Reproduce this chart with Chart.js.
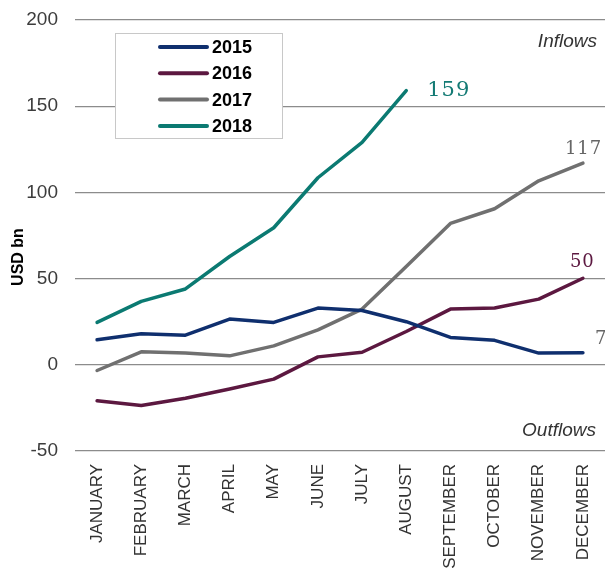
<!DOCTYPE html>
<html>
<head>
<meta charset="utf-8">
<script src="https://cdn.jsdelivr.net/npm/chart.js@4.4.1/dist/chart.umd.min.js"></script>
<style>
  html, body { margin: 0; padding: 0; background: #fff; }
  #wrap { width: 605px; height: 571px; position: relative; }
</style>
</head>
<body>
<div id="wrap"><canvas id="chart"></canvas></div>
<script>
// ===== DATA =====
const MONTHS = ['JANUARY', 'FEBRUARY', 'MARCH', 'APRIL', 'MAY', 'JUNE', 'JULY',
  'AUGUST', 'SEPTEMBER', 'OCTOBER', 'NOVEMBER', 'DECEMBER'];
const Y_TICKS = [-50, 0, 50, 100, 150, 200];
const YEARS = ['2015', '2016', '2017', '2018'];

const FLOWS_2015 = [14.5, 18, 17.2, 26.5, 24.6, 32.9, 31.5, 25, 15.9, 14.2, 6.8, 7];
const FLOWS_2016 = [-20.9, -23.6, -19.4, -14, -8.3, 4.6, 7.3, 19.3, 32.3, 32.9, 38.1, 50.2];
const FLOWS_2017 = [-3.3, 7.5, 6.8, 5.2, 11, 20.3, 32.3, 57, 82, 90.5, 106.7, 117];
const FLOWS_2018 = [24.6, 36.8, 44, 62.8, 79.5, 108.5, 129, 159];

// ===== COLORS =====
const COLORS = {
  navy: '#0f2f6e',
  maroon: '#5c1840',
  gray: '#707070',
  teal: '#0b7a72',
  grid: '#8c8c8c',
  tick: '#3c3c3c',
};

// end-of-line value labels, one per dataset
const END_LABELS = [
  { color: '#666666', font: '18px "DejaVu Serif"', dx: 12, dy: -13 },
  { color: COLORS.maroon, font: '18px "DejaVu Serif"', dx: -13, dy: -16 },
  { color: '#666666', font: '18px "DejaVu Serif"', dx: -18, dy: -14 },
  { color: '#137a74', font: '21px "DejaVu Serif"', dx: 21, dy: 0 },
];

const annotations = {
  id: 'annotations',
  afterDatasetsDraw(chart) {
    const { ctx, scales: { x, y } } = chart;
    ctx.save();

    // value at the end of each line
    chart.data.datasets.forEach((ds, i) => {
      const last = ds.data.length - 1;
      const st = END_LABELS[i];
      ctx.font = st.font;
      ctx.fillStyle = st.color;
      ctx.textAlign = 'left';
      ctx.textBaseline = 'middle';
      ctx.letterSpacing = '1px';
      ctx.fillText(String(Math.round(ds.data[last])),
        x.getPixelForValue(last) + st.dx, y.getPixelForValue(ds.data[last]) + st.dy);
    });
    ctx.letterSpacing = '0px';

    // Inflows / Outflows
    ctx.font = 'italic 19px "Liberation Sans", Arial';
    ctx.fillStyle = '#333';
    ctx.textAlign = 'right';
    ctx.fillText('Inflows', 597, 42);
    ctx.fillText('Outflows', 596, 431);

    // y axis title
    ctx.save();
    ctx.translate(19, 257);
    ctx.rotate(-Math.PI / 2);
    ctx.font = 'bold 16px "Liberation Sans", Arial';
    ctx.fillStyle = '#000';
    ctx.textAlign = 'center';
    ctx.fillText('USD bn', 0, 0);
    ctx.restore();

    // legend box
    const box = { left: 115, top: 33, right: 282, bottom: 138 };
    ctx.fillStyle = '#fff';
    ctx.fillRect(box.left, box.top, box.right - box.left, box.bottom - box.top);
    ctx.strokeStyle = '#c8c8c8';
    ctx.lineWidth = 1;
    ctx.strokeRect(box.left + 0.5, box.top + 0.5, box.right - box.left, box.bottom - box.top);
    chart.data.datasets.forEach((ds, i) => {
      const ly = 47 + i * 26.3;
      ctx.strokeStyle = ds.borderColor;
      ctx.lineWidth = 4;
      ctx.lineCap = 'round';
      ctx.beginPath();
      ctx.moveTo(160, ly);
      ctx.lineTo(207, ly);
      ctx.stroke();
      ctx.font = 'bold 18px "Liberation Sans", Arial';
      ctx.fillStyle = '#000';
      ctx.textAlign = 'left';
      ctx.textBaseline = 'middle';
      ctx.fillText(ds.label, 212, ly + 1);
    });

    ctx.restore();
  },
};

const lineStyle = { borderWidth: 3.5, pointRadius: 0, tension: 0, fill: false,
  borderJoinStyle: 'round', borderCapStyle: 'round' };

new Chart(document.getElementById('chart'), {
  type: 'line',
  data: {
    labels: MONTHS,
    datasets: [
      { label: YEARS[0], data: FLOWS_2015, borderColor: COLORS.navy, ...lineStyle },
      { label: YEARS[1], data: FLOWS_2016, borderColor: COLORS.maroon, ...lineStyle },
      { label: YEARS[2], data: FLOWS_2017, borderColor: COLORS.gray, ...lineStyle },
      { label: YEARS[3], data: FLOWS_2018, borderColor: COLORS.teal, ...lineStyle },
    ],
  },
  options: {
    responsive: true,
    maintainAspectRatio: false,
    animation: false,
    layout: { padding: { top: 20, right: 0, bottom: 0, left: 0 } },
    plugins: {
      legend: { display: false },
      tooltip: { enabled: false },
    },
    scales: {
      x: {
        offset: true,
        grid: { display: false },
        border: { display: false },
        ticks: {
          color: '#333',
          font: { family: '"Liberation Sans", Arial', size: 17 },
          minRotation: 90,
          maxRotation: 90,
          autoSkip: false,
          padding: 5,
        },
        afterFit: (s) => { s.height = 120; s.paddingLeft = 0; s.paddingRight = 0; },
      },
      y: {
        min: Y_TICKS[0],
        max: Y_TICKS[Y_TICKS.length - 1],
        grid: { color: COLORS.grid, lineWidth: 1.3, drawTicks: false },
        border: { display: false },
        ticks: {
          stepSize: Y_TICKS[1] - Y_TICKS[0],
          color: COLORS.tick,
          font: { family: '"Liberation Sans", Arial', size: 19 },
          padding: 17,
        },
        afterFit: (s) => { s.width = 75; s.paddingTop = 0; s.paddingBottom = 0; },
      },
    },
  },
  plugins: [annotations],
});
</script>
</body>
</html>
